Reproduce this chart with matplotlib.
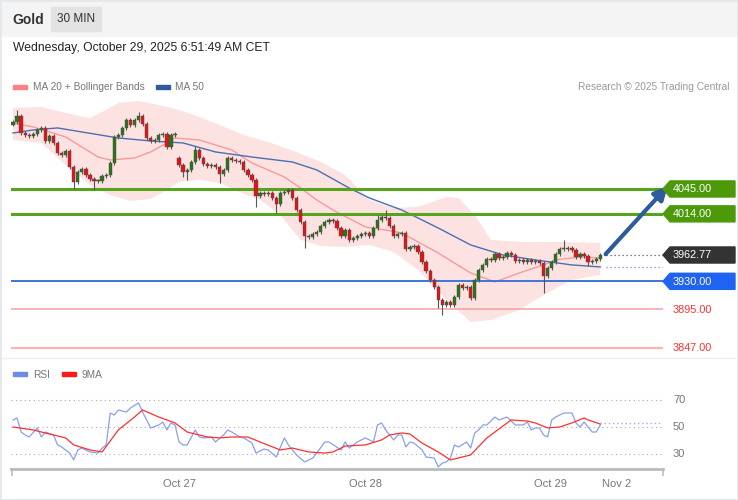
import matplotlib
matplotlib.use("Agg")
import matplotlib.pyplot as plt
import matplotlib.transforms as mtransforms
from matplotlib.patches import Polygon, Rectangle
from matplotlib.lines import Line2D

plt.rcParams['font.family'] = ['Liberation Sans', 'DejaVu Sans']

W, H = 738, 500

# 30 min candles (close prices), open = previous close unless a gap is listed
closes = [
    4128.4, 4135.9, 4114.7, 4112.2, 4111.0, 4113.5, 4118.5, 4121.0, 4104.8, 4111.0,
    4102.3, 4089.8, 4087.3, 4092.3, 4072.4, 4053.7, 4066.2, 4069.9, 4062.4, 4057.5,
    4055.0, 4055.0, 4061.2, 4062.4, 4077.4, 4109.8, 4112.2, 4121.0, 4130.9, 4124.7,
    4130.9, 4135.9, 4125.9, 4108.5, 4104.8, 4106.0, 4112.2, 4113.5, 4097.3, 4112.2,
    4113.5, 4074.9, 4066.2, 4068.7, 4078.6, 4093.6, 4083.6, 4076.1, 4073.6, 4074.9,
    4072.4, 4063.7, 4068.7, 4083.6, 4081.1, 4079.9, 4078.6, 4068.7, 4062.4, 4056.2,
    4036.3, 4040.0, 4038.8, 4040.0, 4033.8, 4026.3, 4040.0, 4041.3, 4043.8, 4033.8,
    4018.8, 4003.9, 3986.5, 3985.2, 3989.0, 3991.5, 3998.9, 4003.9, 4006.4, 4005.2,
    3996.4, 3986.5, 3993.9, 3981.5, 3984.0, 3986.5, 3989.0, 3990.2, 3986.5, 3996.4,
    4006.4, 4010.1, 4008.9, 3998.9, 3986.5, 3989.0, 3990.2, 3970.3, 3972.8, 3974.0,
    3966.5, 3954.1, 3942.9, 3931.7, 3923.0, 3906.8, 3900.5, 3904.3, 3900.5, 3910.5,
    3925.5, 3921.7, 3923.0, 3909.3, 3931.7, 3944.1, 3950.4, 3957.8, 3956.6, 3964.1,
    3959.1, 3960.3, 3965.3, 3962.8, 3955.3, 3956.6, 3954.1, 3956.6, 3954.1, 3955.3,
    3952.8, 3936.7, 3946.6, 3954.1, 3964.1, 3970.3, 3970.3, 3971.5, 3969.0, 3960.3,
    3964.1, 3961.6, 3954.1, 3955.3, 3957.8, 3962.77,
]
first_open = 4125.0
gap_opens = {41: 4083.6}
high_spikes = {1: 4143.4, 31: 4141.0, 45: 4098.0, 90: 4012.0, 92: 4018.8, 136: 3981.5}
low_spikes = {15: 4045.0, 20: 4044.0, 42: 4060.0, 43: 4056.2, 51: 4052.5, 60: 4022.6,
              65: 4015.1, 72: 3971.5, 105: 3897.0, 106: 3888.0, 131: 3915.5, 142: 3949.0}

ma20_idx = [0, 5, 13, 21, 24, 30, 34, 38, 40, 46, 54, 59, 67, 71, 75, 79, 87, 92, 96,
            105, 109, 113, 119, 125, 131, 134, 140, 145]
ma20_val = [4127.2, 4122.2, 4109.8, 4084.8, 4081.1, 4083.6, 4091.1, 4102.3, 4108.5, 4106.0,
            4093.6, 4077.4, 4059.9, 4046.2, 4031.3, 4018.8, 3997.7, 3993.9, 3990.2, 3965.3,
            3952.8, 3940.4, 3929.2, 3940.4, 3950.4, 3956.6, 3960.3, 3959.1]

ma50_idx = [0, 5, 11, 17, 26, 34, 42, 50, 59, 69, 75, 83, 88, 96, 105, 113, 121, 129, 138, 145]
ma50_val = [4114.7, 4118.5, 4121.0, 4116.0, 4108.5, 4104.8, 4102.3, 4091.1, 4084.8, 4078.6,
            4068.7, 4046.2, 4033.8, 4018.8, 3996.4, 3975.3, 3962.8, 3956.6, 3950.4, 3947.9]

bb_up_idx = [0, 7, 13, 19, 23, 26, 31, 36, 41, 46, 51, 57, 63, 70, 76, 82, 88, 94, 100,
             107, 110, 114, 118, 125, 135, 145]
bb_up_val = [4145.9, 4147.1, 4139.6, 4133.4, 4143.4, 4152.1, 4154.6, 4149.6, 4143.4, 4134.7,
             4124.7, 4112.2, 4103.5, 4091.1, 4078.6, 4062.4, 4031.3, 4021.3, 4022.6, 4035.0,
             4033.8, 4012.6, 3981.5, 3979.0, 3979.0, 3977.8]
bb_lo_idx = [0, 7, 13, 19, 24, 29, 34, 38, 41, 46, 51, 56, 61, 66, 71, 76, 82, 88, 94,
             100, 107, 113, 118, 125, 131, 138, 145]
bb_lo_val = [4106.0, 4102.3, 4074.9, 4050.0, 4037.5, 4030.1, 4032.5, 4043.8, 4053.7, 4056.2,
             4052.5, 4041.3, 4031.3, 4012.6, 3981.5, 3974.0, 3972.8, 3975.3, 3966.5, 3944.1,
             3906.8, 3879.4, 3881.9, 3894.3, 3913.0, 3931.7, 3937.9]

rsi_idx = [0, 1, 2, 3, 4, 6, 7, 8, 10, 11, 12, 14, 15, 16, 17, 19, 21, 22, 23, 24, 25, 26,
           28, 29, 31, 32, 33, 34, 36, 37, 38, 39, 40, 41, 42, 43, 45, 46, 47, 49, 50, 52,
           53, 54, 56, 57, 59, 60, 62, 63, 65, 67, 68, 70, 72, 74, 75, 77, 78, 81, 82, 83,
           85, 87, 88, 89, 90, 91, 92, 94, 95, 96, 97, 98, 99, 101, 102, 104, 105, 106,
           107, 108, 109, 110, 112, 113, 114, 115, 116, 117, 119, 120, 122, 124, 126, 127,
           128, 129, 130, 131, 132, 133, 134, 136, 138, 139, 140, 141, 143, 144, 145]
rsi_val = [55.2, 56.7, 46.3, 44.1, 42.6, 49.3, 42.6, 46.3, 44.1, 36.7, 35.2, 30.7, 25.6,
           33.0, 34.4, 31.5, 30.7, 34.4, 36.7, 60.4, 58.9, 62.6, 61.1, 64.1, 67.8, 61.1,
           55.2, 49.3, 51.5, 53.7, 47.8, 53.0, 51.5, 38.9, 36.7, 36.7, 47.8, 42.6, 41.9,
           42.6, 38.9, 44.1, 47.8, 46.3, 42.6, 41.9, 38.1, 30.7, 33.7, 33.0, 27.8, 41.9,
           36.7, 29.3, 24.1, 27.0, 30.7, 38.9, 38.9, 33.0, 38.9, 34.4, 38.9, 41.9, 40.4,
           38.9, 51.5, 53.0, 47.8, 40.4, 44.1, 44.1, 35.2, 38.9, 38.1, 33.0, 27.8, 27.0,
           20.4, 23.3, 24.1, 27.0, 36.7, 35.2, 38.9, 34.4, 45.6, 47.8, 51.5, 51.5, 57.4,
           55.2, 57.4, 51.5, 51.5, 53.7, 47.8, 49.3, 49.3, 44.1, 42.6, 55.2, 57.4, 60.4,
           60.4, 53.0, 50.0, 53.7, 46.3, 46.3, 51.5]
rsi_ma_idx = [0, 5, 7, 13, 15, 19, 22, 26, 30, 32, 36, 40, 43, 48, 51, 54, 58, 61, 66, 69,
              73, 77, 79, 82, 87, 91, 93, 96, 98, 101, 105, 108, 113, 117, 123, 127, 129,
              132, 135, 138, 141, 142, 145]
rsi_ma_val = [50.0, 47.8, 46.3, 41.9, 36.7, 33.0, 31.5, 47.8, 57.4, 62.6, 57.4, 53.0, 46.3,
              42.6, 41.9, 42.6, 42.6, 38.9, 33.0, 34.4, 31.5, 30.7, 31.5, 35.9, 36.7, 40.4,
              44.1, 45.6, 44.8, 38.1, 31.5, 25.6, 29.3, 41.9, 55.2, 54.4, 53.0, 49.3, 50.0,
              53.0, 56.7, 55.2, 52.2]
rsi_last = 53.0

resistances = [4045.0, 4014.0]
pivot = 3930.0
supports = [3895.0, 3847.0]
last_price = 3962.77
target = 4048.7

tick_pos = [41, 87, 132.6, 149]
tick_labels = ['Oct 27', 'Oct 28', 'Oct 29', 'Nov 2']
rsi_levels = [70, 50, 30]


def fx(x):
    return x / W


def fy(y):
    return 1 - y / H


fig = plt.figure(figsize=(W / 100, H / 100), dpi=100)

# header and frame
fig.patches.append(Rectangle((0, fy(36)), 1, 36 / H, transform=fig.transFigure,
                             color='#f4f4f4', zorder=0))
fig.patches.append(Rectangle((fx(51), fy(31)), 50 / W, 24 / H, transform=fig.transFigure,
                             color='#e3e3e3', zorder=1))
fig.text(fx(12), fy(19.5), 'Gold', fontsize=10, fontweight='bold', color='#333333', va='center')
fig.text(fx(76), fy(19.5), '30 MIN', fontsize=8.5, color='#333333', va='center', ha='center')
fig.text(fx(13), fy(48.5), 'Wednesday, October 29, 2025 6:51:49 AM CET', fontsize=8.7,
         color='#222222', va='center')
fig.add_artist(Line2D([0, 1], [fy(358), fy(358)], color='#eeeeee', lw=1))
fig.patches.append(Rectangle((0, 0), 1, 1, transform=fig.transFigure, fill=False,
                             edgecolor='#e4e7ec', lw=2, zorder=5))

# legends
fig.patches.append(Rectangle((fx(13), fy(89)), 14 / W, 4 / H, transform=fig.transFigure,
                             color='#ff8080'))
fig.text(fx(33), fy(87.5), 'MA 20 + Bollinger Bands', fontsize=7.3, color='#777777', va='center')
fig.patches.append(Rectangle((fx(156), fy(89)), 14 / W, 4 / H, transform=fig.transFigure,
                             color='#2f5a9e'))
fig.text(fx(175), fy(87.5), 'MA 50', fontsize=7.3, color='#777777', va='center')
fig.text(fx(729), fy(87.5), 'Research \u00a9 2025 Trading Central', fontsize=7.3,
         color='#9a9a9a', va='center', ha='right')

fig.patches.append(Rectangle((fx(13), fy(376)), 14 / W, 4 / H, transform=fig.transFigure,
                             color='#6a8be6'))
fig.text(fx(33), fy(374.5), 'RSI', fontsize=7.3, color='#777777', va='center')
fig.patches.append(Rectangle((fx(62), fy(376)), 14 / W, 4 / H, transform=fig.transFigure,
                             color='#ff1a1a'))
fig.text(fx(82), fy(374.5), '9MA', fontsize=7.3, color='#777777', va='center')

# price panel
ax = fig.add_axes([fx(11), fy(358), 652 / W, 258 / H])
ax.set_xlim(-0.494, 160.49)
ax.set_ylim(3834.5, 4155.8)
ax.axis('off')

ax.fill(bb_up_idx + bb_lo_idx[::-1], bb_up_val + bb_lo_val[::-1], color='#fde2e2',
        lw=0, zorder=1)
ax.plot(ma20_idx, ma20_val, color='#f79a9a', lw=1, zorder=2)
ax.plot(ma50_idx, ma50_val, color='#4a6fb3', lw=1, zorder=2)

for r in resistances:
    ax.axhline(r, color='#56a41e', lw=2.2, zorder=3)
ax.axhline(pivot, color='#3f74dc', lw=1.4, zorder=3)
ax.axhline(supports[0], color='#f5a0a0', lw=1.1, zorder=3)
ax.axhline(supports[1], color='#ffb3b3', lw=1.6, zorder=3)

prev = first_open
for i, c in enumerate(closes):
    o = gap_opens.get(i, prev)
    hi = high_spikes.get(i, max(o, c) + 2.0)
    lo = low_spikes.get(i, min(o, c) - 2.0)
    ax.vlines(i, lo, hi, color='#555555', lw=0.8, zorder=4)
    col = '#2a7419' if c >= o else '#e0141a'
    h = c - o if abs(c - o) > 0.8 else 0.8
    ax.bar(i, h, bottom=o, width=0.8, color=col, edgecolor='#4a4a4a', lw=0.3, zorder=5)
    prev = c

ax.plot([146.5, 160.5], [last_price] * 2, color='#555555', ls=(0, (1, 2.2)), lw=0.9)
ax.plot([146.5, 160.5], [ma50_val[-1]] * 2, color='#6f8fd6', ls=(0, (1, 2.2)), lw=0.9)

ax.annotate('', xy=(161.7, target), xytext=(146.3, last_price + 1),
            arrowprops=dict(arrowstyle='-|>', color='#2c5c9c', lw=3, mutation_scale=20,
                            shrinkA=0, shrinkB=0),
            annotation_clip=False, zorder=6)

trans = mtransforms.blended_transform_factory(fig.transFigure, ax.transData)
tags = [(resistances[0], '#4c9a0a'), (resistances[1], '#4c9a0a'),
        (last_price, '#333333'), (pivot, '#1f63f0')]
for p, col in tags:
    poly = Polygon([(fx(663), p), (fx(670), p + 10), (fx(735), p + 10), (fx(735), p - 10),
                    (fx(670), p - 10)], closed=True, transform=trans, color=col,
                   clip_on=False, zorder=6)
    ax.add_patch(poly)
    ax.text(fx(673), p - 0.6, f'{p:.2f}', transform=trans, fontsize=7.8, color='white',
            va='center', ha='left', zorder=7)
for p in supports:
    ax.text(fx(673), p - 0.6, f'{p:.2f}', transform=trans, fontsize=7.8, color='#ff3030',
            va='center', ha='left')

# RSI panel
ax2 = fig.add_axes([fx(11), fy(469), 652 / W, 84 / H])
ax2.set_xlim(-0.494, 160.49)
ax2.set_ylim(18.89, 81.11)
for s in ['top', 'left', 'right']:
    ax2.spines[s].set_visible(False)
ax2.spines['bottom'].set_color('#bbbbbb')
ax2.spines['bottom'].set_linewidth(2)
ax2.set_yticks([])
ax2.set_xticks(tick_pos)
ax2.set_xticklabels(tick_labels)
ax2.tick_params(axis='x', length=0, pad=7, labelsize=8, labelcolor='#777777')
for lv in rsi_levels:
    ax2.axhline(lv, color='#aaaaaa', ls=(0, (1, 3)), lw=0.8)
ax2.plot(rsi_idx, rsi_val, color='#88a0ee', lw=0.9)
ax2.plot(rsi_ma_idx, rsi_ma_val, color='#ff3030', lw=0.9)
ax2.plot([145, 160.5], [rsi_last] * 2, color='#9ab0f0', ls=(0, (1, 2)), lw=1)

trans2 = mtransforms.blended_transform_factory(fig.transFigure, ax2.transData)
for lv in rsi_levels:
    ax2.text(fx(673), lv, str(lv), transform=trans2, fontsize=8, color='#777777',
             va='center', ha='left')
for xe in [11.5, 662.5]:
    fig.add_artist(Line2D([fx(xe), fx(xe)], [fy(469), fy(475)], color='#bbbbbb', lw=1.2))

fig.savefig('out.png', dpi=100)
